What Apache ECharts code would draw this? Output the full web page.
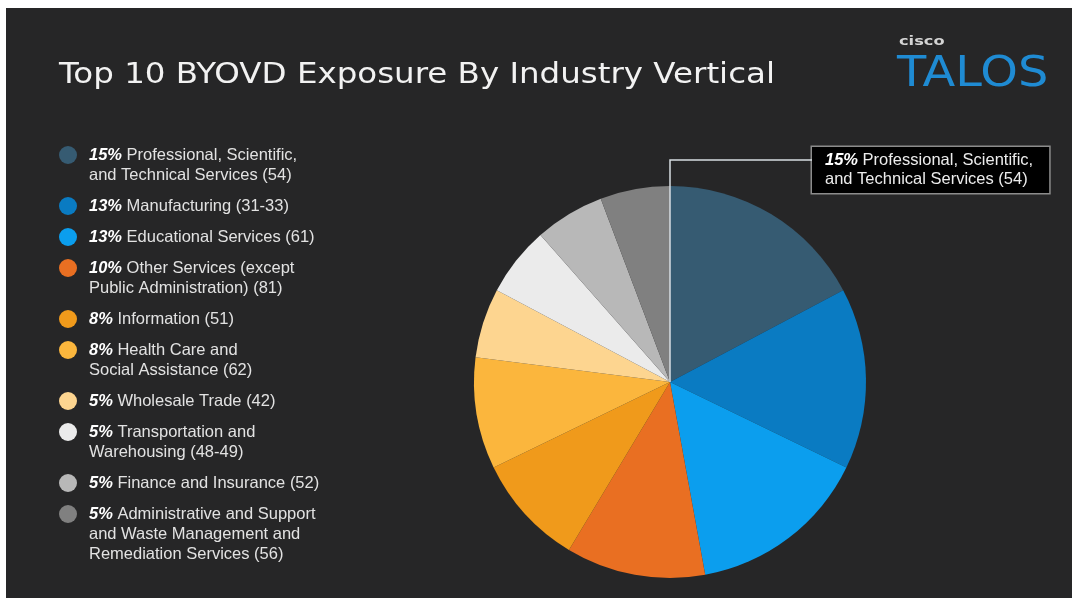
<!DOCTYPE html>
<html>
<head>
<meta charset="utf-8">
<title>Top 10 BYOVD Exposure By Industry Vertical</title>
<script src="https://cdn.jsdelivr.net/npm/echarts@6/dist/echarts.min.js"></script>
<style>
    html, body { margin: 0; padding: 0; background: #ffffff; }
    #chart { position: absolute; left: 6px; top: 8px; width: 1066px; height: 590px; }
</style>
</head>
<body>
<div id="chart"></div>
<script>
// share of the top 10 (percent of all exposure), NAICS code in brackets
var pcts = [15, 13, 13, 10, 8, 8, 5, 5, 5, 5];
var industries = [
    'Professional, Scientific,\nand Technical Services (54)',
    'Manufacturing (31-33)',
    'Educational Services (61)',
    'Other Services (except\nPublic Administration) (81)',
    'Information (51)',
    'Health Care and\nSocial Assistance (62)',
    'Wholesale Trade (42)',
    'Transportation and\nWarehousing (48-49)',
    'Finance and Insurance (52)',
    'Administrative and Support\nand Waste Management and\nRemediation Services (56)'
];
var colors = ['#365b72', '#0a7bc2', '#0b9eee', '#e96f22', '#f09a1b', '#fbb63d', '#fdd590', '#ebebeb', '#b8b8b8', '#808080'];

var center = [664, 374];
var radius = 196;
var callout = [806, 139];

var chart = echarts.init(document.getElementById('chart'));

var rich = {
    sp: { width: 12 },
    ind: { width: 30 },
    p: { fontWeight: 'bold', fontStyle: 'italic', color: '#ffffff', fontSize: 16.5, lineHeight: 20 }
};
colors.forEach(function (c, i) {
    rich['d' + i] = { width: 18, height: 18, borderRadius: 9, backgroundColor: c, verticalAlign: 'middle' };
});

var seriesData = pcts.map(function (v, i) {
    var item = { name: industries[i], value: v, itemStyle: { color: colors[i] } };
    if (i === 0) {
        item.label = { show: true };
    }
    return item;
});

chart.setOption({
    backgroundColor: '#262627',
    animation: false,
    legend: {
        orient: 'vertical',
        left: 48,
        top: 137,
        padding: 0,
        itemGap: 11,
        itemWidth: 0,
        itemHeight: 14,
        icon: 'none',
        selectedMode: false,
        data: industries,
        formatter: function (name) {
            var i = industries.indexOf(name);
            var lines = name.split('\n');
            var out = '{d' + i + '|}{sp|}{p|' + pcts[i] + '%} ' + lines[0];
            for (var k = 1; k < lines.length; k++) {
                out += '\n{ind|}' + lines[k];
            }
            return out;
        },
        textStyle: {
            color: '#e2e2e2',
            fontFamily: 'Liberation Sans',
            fontSize: 16.5,
            lineHeight: 20,
            rich: rich
        }
    },
    graphic: [
        {
            // title, stretched a little to the width of the slide font
            type: 'text',
            x: 53,
            y: 53,
            scaleX: 1.12,
            style: { text: 'Top 10 BYOVD Exposure By Industry Vertical', fill: '#f2f2f2', font: '29px "DejaVu Sans"' }
        },
        {
            type: 'text',
            x: 893,
            y: 28,
            scaleX: 1.35,
            style: { text: 'cisco', fill: '#d4d4d4', font: 'bold 12px "DejaVu Sans"' }
        },
        {
            type: 'text',
            x: 891,
            y: 46,
            scaleX: 1.14,
            style: { text: 'TALOS', fill: '#1f8bd3', font: '42px "DejaVu Sans"' }
        },
        {
            type: 'polyline',
            z: 10,
            shape: { points: [center, [center[0], center[1] - radius - 26], [callout[0], center[1] - radius - 26]] },
            style: { stroke: '#d6dde2', lineWidth: 1.5, fill: null }
        }
    ],
    series: [{
        type: 'pie',
        center: center,
        radius: radius,
        startAngle: 90,
        clockwise: true,
        silent: true,
        itemStyle: { borderWidth: 0 },
        label: {
            show: false,
            position: 'outside',
            formatter: function (p) {
                return '{p|' + pcts[p.dataIndex] + '%} ' + p.name;
            },
            color: '#ececec',
            fontFamily: 'Liberation Sans',
            fontSize: 16.5,
            lineHeight: 19,
            backgroundColor: '#000000',
            borderColor: '#8c8c8c',
            borderWidth: 1.5,
            padding: [4, 16, 4, 13],
            rich: {
                p: { fontWeight: 'bold', fontStyle: 'italic', color: '#ffffff', fontSize: 16.5, lineHeight: 19 }
            }
        },
        labelLine: { show: false },
        labelLayout: function (params) {
            if (params.dataIndex === 0) {
                return { x: callout[0], y: callout[1], align: 'left', verticalAlign: 'top' };
            }
        },
        data: seriesData
    }]
});
</script>
</body>
</html>
